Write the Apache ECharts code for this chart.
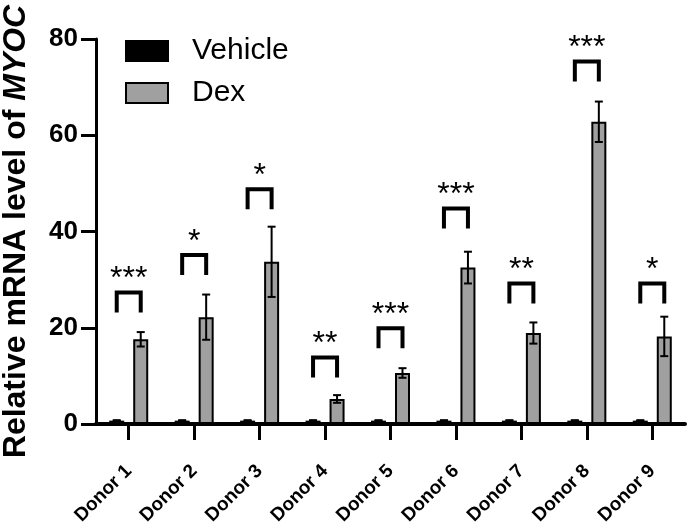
<!DOCTYPE html>
<html>
<head>
<meta charset="utf-8">
<script src="https://cdn.jsdelivr.net/npm/echarts@6/dist/echarts.min.js"></script>
<style>
  html, body { margin: 0; padding: 0; background: #fff; }
  #chart { width: 688px; height: 532px; }
</style>
</head>
<body>
<div id="chart"></div>
<script>
// values
var categories = ['Donor 1', 'Donor 2', 'Donor 3', 'Donor 4', 'Donor 5', 'Donor 6', 'Donor 7', 'Donor 8', 'Donor 9'];
var vehicleMean = [0.7, 0.7, 0.7, 0.7, 0.7, 0.7, 0.7, 0.7, 0.7];
var vehicleErr = [0.1, 0.1, 0.1, 0.1, 0.1, 0.1, 0.1, 0.1, 0.1];
var dexMean = [17.6, 22.2, 33.7, 5.2, 10.6, 32.5, 18.9, 62.8, 18.2];
var dexErr = [1.5, 4.7, 7.3, 0.8, 1.0, 3.3, 2.2, 4.2, 4.1];
var sigLabels = ['***', '*', '*', '**', '***', '***', '**', '***', '*'];
var sigHeight = [27.3, 35.1, 48.8, 13.8, 19.9, 44.8, 29.2, 75.3, 29.2];
var yTicks = [0, 20, 40, 60, 80];

var FONT = '"Liberation Sans", Arial, sans-serif';
var BAR_W = 15;
var BAR_OFF = 12; // half distance between the two bar centres

function errData(mean, err) {
    var out = [];
    for (var i = 0; i < mean.length; i++) {
        out.push([i, mean[i], err[i]]);
    }
    return out;
}

function makeErrRender(side) {
    return function (params, api) {
        var idx = api.value(0);
        var m = api.value(1);
        var e = api.value(2);
        var top = api.coord([idx, m + e]);
        var bot = api.coord([idx, m - e]);
        var x = top[0] + side * BAR_OFF;
        var cap = 4;
        var st = { stroke: '#000', lineWidth: 2 };
        return {
            type: 'group',
            children: [
                { type: 'line', shape: { x1: x, y1: top[1], x2: x, y2: bot[1] }, style: st },
                { type: 'line', shape: { x1: x - cap, y1: top[1], x2: x + cap, y2: top[1] }, style: st },
                { type: 'line', shape: { x1: x - cap, y1: bot[1], x2: x + cap, y2: bot[1] }, style: st }
            ]
        };
    };
}

function renderSig(params, api) {
    var idx = api.value(0);
    var h = api.value(1);
    var p = api.coord([idx, h]);
    var xl = p[0] - BAR_OFF;
    var xr = p[0] + BAR_OFF;
    var leg = 20;
    return {
        type: 'group',
        children: [
            {
                type: 'polyline',
                shape: { points: [[xl, p[1] + leg], [xl, p[1]], [xr, p[1]], [xr, p[1] + leg]] },
                style: { stroke: '#000', lineWidth: 4, fill: null, lineJoin: 'miter' }
            },
            {
                type: 'text',
                x: p[0],
                y: p[1] - 13,
                style: {
                    text: sigLabels[idx],
                    fontFamily: FONT,
                    fontSize: 32,
                    fill: '#000',
                    align: 'center',
                    verticalAlign: 'middle'
                }
            }
        ]
    };
}

var sigData = [];
for (var i = 0; i < sigHeight.length; i++) {
    sigData.push([i, sigHeight[i]]);
}

var chart = echarts.init(document.getElementById('chart'));
var option = {
    animation: false,
    backgroundColor: '#fff',
    grid: { left: 96, right: 3, top: 39, bottom: 108, outerBoundsMode: 'none', containLabel: false },
    legend: {
        orient: 'vertical',
        left: 120,
        top: 31,
        itemWidth: 42,
        itemHeight: 20,
        itemGap: 12,
        icon: 'rect',
        data: ['Vehicle', 'Dex'],
        textStyle: { fontFamily: FONT, fontSize: 30, color: '#000', padding: [0, 0, 0, 19] }
    },
    xAxis: {
        type: 'category',
        data: categories,
        axisLine: { lineStyle: { color: '#000', width: 4 } },
        axisTick: { show: true, inside: false, alignWithLabel: true, length: 16, lineStyle: { color: '#000', width: 3 } },
        axisLabel: {
            rotate: 45,
            margin: 44,
            color: '#000',
            fontFamily: FONT,
            fontWeight: 'bold',
            fontSize: 19,
            interval: 0,
            hideOverlap: false
        }
    },
    yAxis: {
        type: 'value',
        min: yTicks[0],
        max: yTicks[yTicks.length - 1],
        interval: 20,
        name: 'Relative mRNA level of {i|MYOC}',
        nameLocation: 'middle',
        nameRotate: 90,
        nameGap: 64,
        nameTextStyle: {
            fontFamily: FONT,
            fontWeight: 'bold',
            fontSize: 32,
            color: '#000',
            rich: {
                i: { fontFamily: FONT, fontWeight: 'bold', fontStyle: 'italic', fontSize: 32, color: '#000' }
            }
        },
        splitLine: { show: false },
        axisLine: { show: true, lineStyle: { color: '#000', width: 3 } },
        axisTick: { show: true, length: 15, lineStyle: { color: '#000', width: 3 } },
        axisLabel: {
            margin: 18,
            color: '#000',
            fontFamily: FONT,
            fontWeight: 'bold',
            fontSize: 26
        }
    },
    series: [
        {
            name: 'Vehicle',
            type: 'bar',
            data: vehicleMean,
            barWidth: BAR_W,
            barGap: '60%',
            itemStyle: { color: '#000', borderColor: '#000', borderWidth: 2 }
        },
        {
            name: 'Dex',
            type: 'bar',
            data: dexMean,
            barWidth: BAR_W,
            barGap: '60%',
            itemStyle: { color: '#a0a0a0', borderColor: '#000', borderWidth: 2 }
        },
        {
            type: 'custom',
            renderItem: makeErrRender(-1),
            data: errData(vehicleMean, vehicleErr),
            encode: { x: 0, y: 1 },
            z: 5
        },
        {
            type: 'custom',
            renderItem: makeErrRender(1),
            data: errData(dexMean, dexErr),
            encode: { x: 0, y: 1 },
            z: 5
        },
        {
            type: 'custom',
            renderItem: renderSig,
            data: sigData,
            encode: { x: 0, y: 1 },
            z: 5
        }
    ]
};
chart.setOption(option);
</script>
</body>
</html>
